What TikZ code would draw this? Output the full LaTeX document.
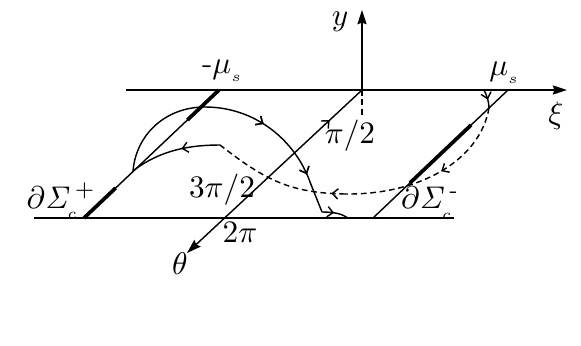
\documentclass[tikz,border=0pt]{standalone}
\usepackage{amsmath}
\usetikzlibrary{arrows.meta,decorations.markings,calc}
\begin{document}
\begin{tikzpicture}[x=0.35pt,y=-0.35pt,line width=0.5pt,
  axisarrow/.style={-{Stealth[length=5pt,width=3.2pt,inset=0.6pt]}},
  boldseg/.style={line width=1.3pt},
  dashcurve/.style={dash pattern=on 2pt off 1.3pt},
  midarrow/.style={postaction={decorate},decoration={markings,mark=at position #1 with {\arrow{Straight Barb[length=2pt,width=3.6pt]}}}},
  midrev/.style={postaction={decorate},decoration={markings,mark=at position #1 with {\arrowreversed{Straight Barb[length=2pt,width=3.6pt]}}}},
  lbl/.style={inner sep=0pt,font=\fontsize{11}{13}\selectfont}]
\useasboundingbox (0,0) rectangle (581,345);
% key points
\coordinate (O) at (362,90);
\coordinate (Ytip) at (362,10);
\coordinate (TL) at (126,90);
\coordinate (Xtip) at (567,90);
\coordinate (BL) at (34,218);
\coordinate (BR) at (454,218);
\coordinate (Th) at (187,253);
\coordinate (Lt) at (219,90);
\coordinate (Lb) at (84,218);
\coordinate (Rt) at (508,90);
\coordinate (Rb) at (373,218);
\coordinate (cusp) at (133,171);
\coordinate (top) at (205,107);
\coordinate (knee) at (310,182);
\coordinate (foot) at (322,212);
\coordinate (endp) at (348,218);
\coordinate (peak) at (220,145);
\coordinate (rp) at (489,108);
\coordinate (mid) at (345,194);
\coordinate (dv) at (362,118);
\coordinate (sa) at (484,90);
% axes and planes
\draw[axisarrow] (O) -- (Ytip);
\draw[axisarrow] (TL) -- (Xtip);
\draw (BL) -- (BR);
\draw[axisarrow,midrev=0.185] (O) -- (Th);
\draw[dashcurve] (O) -- (dv);
\draw (Lt) -- (Lb);
\draw (Rt) -- (Rb);
\draw[boldseg] (Lt) -- ($(Lt)!0.234!(Lb)$);
\draw[boldseg] ($(Lt)!0.766!(Lb)$) -- (Lb);
\draw[boldseg] ($(Rt)!0.273!(Rb)$) -- ($(Rt)!0.727!(Rb)$);
% solid trajectory
\draw (cusp) .. controls (136,135) and (165,107) .. (top);
\draw[midarrow=0.45,midarrow=0.94] (top) .. controls (255,107) and (295,140) .. (knee);
\draw (knee) -- (foot);
\draw[midarrow=0.45] (foot) .. controls (335,212) and (342,214) .. (endp);
% return trajectory
\draw[midarrow=0.55] (sa) .. controls (487,96) and (489,102) .. (rp);
\draw[dashcurve,midarrow=0.45] (rp) .. controls (480,160) and (420,195) .. (mid);
\draw[dashcurve,midarrow=0.1] (mid) .. controls (290,193) and (265,180) .. (peak);
\draw[midarrow=0.42] (peak) .. controls (190,145) and (160,150) .. (cusp);
% labels
\node[lbl] (lmu) at (223,71) {-$\mu_{_s}$};
\node[lbl] (rmu) at (505,73) {$\mu_{_s}$};
\node[lbl] (xi) at (556,116) {$\xi$};
\node[lbl] (yl) at (340,22) {$y$};
\node[lbl] (pi2) at (350,136) {$\pi/2$};
\node[lbl] (tpi2) at (222,190) {$3\pi/2$};
\node[lbl] (tpi) at (240,232) {$2\pi$};
\node[lbl] (th) at (180,264) {$\theta$};
\node[lbl] (dsp) at (61,201) {$\partial\mathit{\Sigma}_{_c}^{\,+}$};
\node[lbl] (dsm) at (430,203) {$\partial\mathit{\Sigma}_{_c}^{\,\text{-}}$};
\end{tikzpicture}
\end{document}
